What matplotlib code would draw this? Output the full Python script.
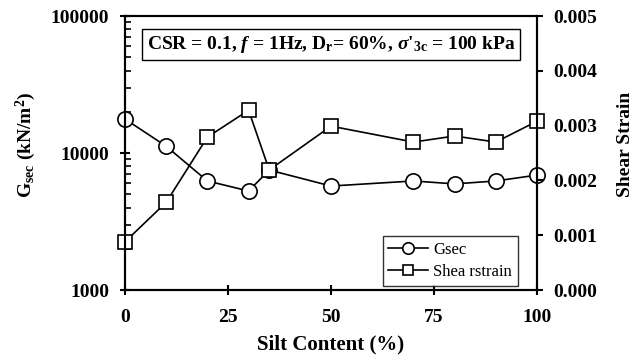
import numpy as np
import matplotlib.pyplot as plt
from matplotlib.ticker import LogLocator, NullFormatter, FixedLocator

# silt content (%) and measured values
silt = [0, 10, 20, 30, 35, 50, 70, 80, 90, 100]
gsec = [17700, 11200, 6250, 5280, 7510, 5740, 6250, 5950, 6250, 6900]
strain = [0.00088, 0.0016, 0.00279, 0.00328, 0.00219, 0.00299, 0.0027, 0.00281, 0.0027, 0.00308]

x_ticks = [0, 25, 50, 75, 100]
strain_ticks = [0.000, 0.001, 0.002, 0.003, 0.004, 0.005]

plt.rcParams['font.family'] = ['Liberation Serif', 'DejaVu Serif']
plt.rcParams['mathtext.fontset'] = 'custom'
plt.rcParams['mathtext.rm'] = 'Liberation Serif:bold'
plt.rcParams['mathtext.it'] = 'Liberation Serif:italic:bold'
plt.rcParams['mathtext.bf'] = 'Liberation Serif:bold'

fig = plt.figure(figsize=(6.43, 3.59), dpi=100)
ax = fig.add_axes([0.1944, 0.1922, 0.6408, 0.7632])
ax2 = ax.twinx()

l1, = ax.plot(silt, gsec, '-o', color='black', lw=1.2, ms=11,
              mfc='white', mec='black', mew=1.2, label='Gsec', clip_on=False)
l2, = ax2.plot(silt, strain, '-s', color='black', lw=1.2, ms=10,
               mfc='white', mec='black', mew=1.2, label='Shea rstrain', clip_on=False)

ax.set_yscale('log')
ax.set_ylim(1000, 100000)
ax.set_xlim(0, 100)
ax2.set_ylim(0, 0.005)
ax.xaxis.set_major_locator(FixedLocator(x_ticks))
ax.yaxis.set_minor_locator(LogLocator(base=10, subs=np.arange(2, 10), numticks=10))
ax.yaxis.set_minor_formatter(NullFormatter())
ax.set_yticks([1000, 10000, 100000])
ax.set_yticklabels(['1000', '10000', '100000'])
ax2.set_yticks(strain_ticks)
ax2.set_yticklabels(['%.3f' % v for v in strain_ticks])

for a in (ax, ax2):
    for s in a.spines.values():
        s.set_linewidth(1.5)
ax.tick_params(axis='both', which='major', direction='inout', length=7, width=1.5,
               labelsize=14)
ax.tick_params(axis='x', which='major', pad=10)
ax.tick_params(axis='y', which='major', pad=8)
ax.tick_params(axis='y', which='minor', direction='in', length=4, width=1.2)
ax2.tick_params(axis='y', which='major', direction='out', length=4, width=1.5,
                labelsize=14, pad=8)
for lab in ax.get_xticklabels() + ax.get_yticklabels() + ax2.get_yticklabels():
    lab.set_fontweight('bold')

ax.set_xlabel('Silt Content (%)', fontsize=15, fontweight='bold', labelpad=6)
ax.set_ylabel(r'G$_{\mathregular{sec}}$ (kN/m$^{\mathregular{2}}$)', fontsize=14,
              fontweight='bold')
ax2.set_ylabel('Shear Strain', fontsize=14, fontweight='bold')
ax.yaxis.set_label_coords(-0.212, 0.53)
ax2.yaxis.set_label_coords(1.195, 0.53)

ax.text(0.5, 0.896,
        r"CSR = 0.1, $f$ = 1Hz, D$_{\mathregular{r}}$= 60%, $\sigma$'$_{\mathregular{3c}}$ = 100 kPa",
        transform=ax.transAxes, ha='center', va='center', fontsize=14, fontweight='bold',
        bbox=dict(boxstyle='square,pad=0.25', fc='white', ec='black', lw=1.0))

leg = ax2.legend(handles=[l1, l2], loc='lower right', bbox_to_anchor=(0.954, 0.015),
                 borderaxespad=0, fontsize=12, frameon=True, fancybox=False,
                 edgecolor='black', borderpad=0.35, handlelength=2.4, handletextpad=0.3,
                 labelspacing=0.35, markerscale=0.75)
leg.get_frame().set_linewidth(1.0)

fig.savefig('out.png', dpi=100)
